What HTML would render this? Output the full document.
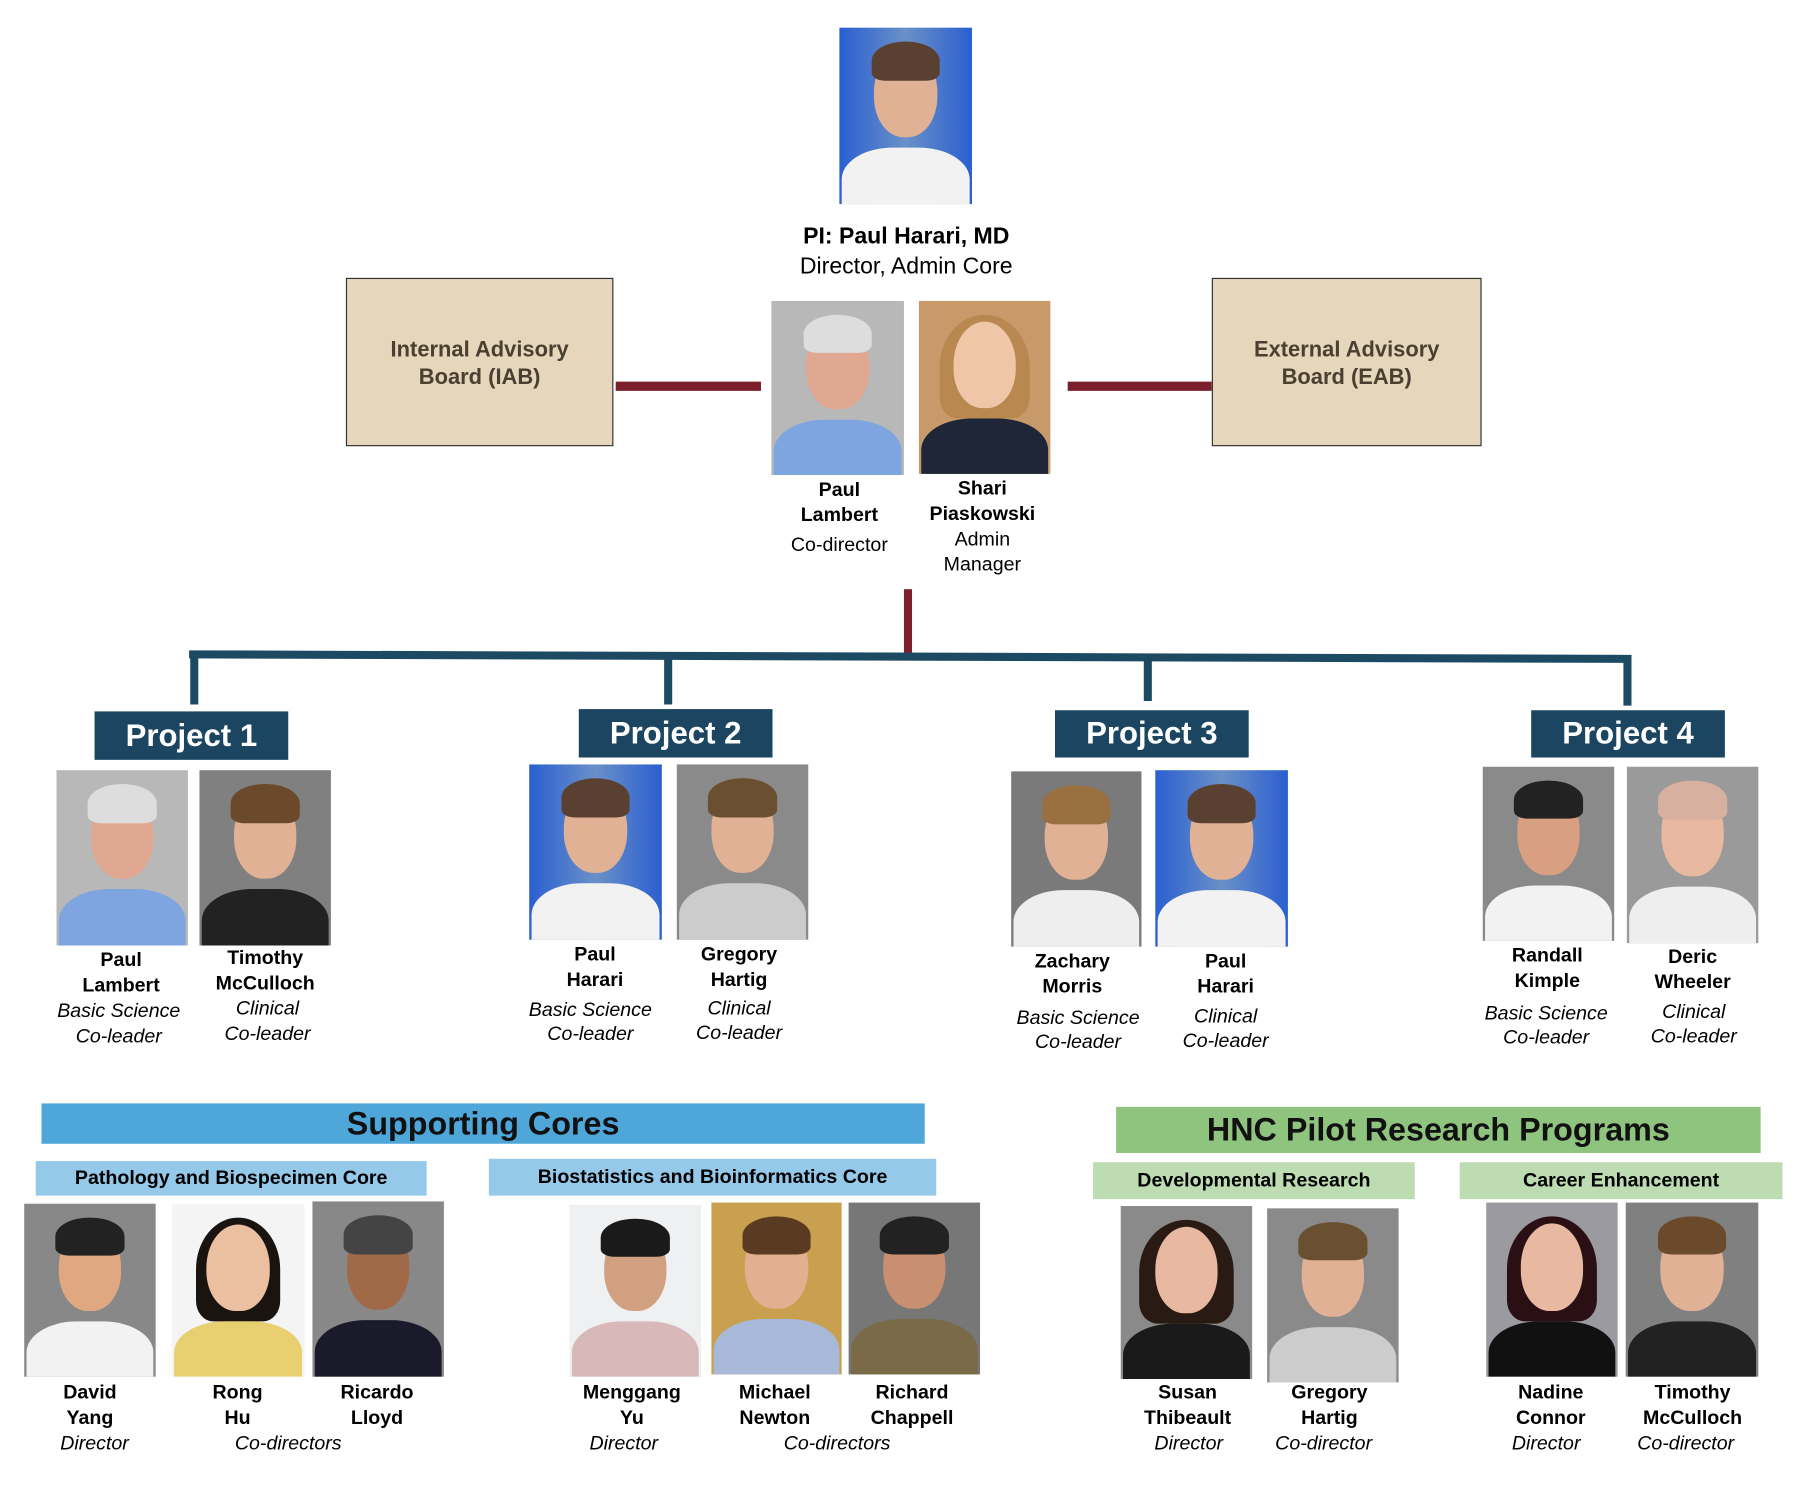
<!DOCTYPE html>
<html><head><meta charset="utf-8"><style>
html,body{margin:0;padding:0;background:#fff;width:1807px;height:1507px;overflow:hidden}
#w{position:absolute;left:0;top:0;width:1570px;height:1310px;transform:scale(1.1530,1.1530);transform-origin:0 0;font-family:"Liberation Sans",Arial,sans-serif;color:#000}
.a{position:absolute}
.t{position:absolute;width:220px;text-align:center;font-size:17px;line-height:22px;white-space:nowrap}
.b{font-weight:bold}.i{font-style:italic}
.ph{position:absolute;overflow:hidden}
.ph .hd{position:absolute;left:26%;top:12%;width:48%;height:50%;border-radius:50% 50% 46% 46%;background:#e0b195}
.ph .hr{position:absolute;left:24%;top:8%;width:52%;height:22%;border-radius:50% 50% 20% 20%}
.ph .bd{position:absolute;left:2%;top:68%;width:96%;height:45%;border-radius:40% 40% 0 0}
.box{position:absolute;display:flex;align-items:center;justify-content:center;text-align:center}
</style></head><body><div id="w">

<div class="a" style="left:534px;top:331px;width:126px;height:8px;background:#7a1f2b"></div>
<div class="a" style="left:926px;top:331px;width:125px;height:8px;background:#7a1f2b"></div>
<div class="a" style="left:784px;top:511px;width:7px;height:58px;background:#7a1f2b"></div>
<div class="a" style="left:164px;top:566px;width:1251px;height:7px;background:#1c4a63;transform:rotate(0.18deg)"></div>
<div class="a" style="left:165px;top:567px;width:7px;height:44px;background:#1c4a63"></div>
<div class="a" style="left:576px;top:568px;width:7px;height:43px;background:#1c4a63"></div>
<div class="a" style="left:992px;top:570px;width:7px;height:38px;background:#1c4a63"></div>
<div class="a" style="left:1408px;top:571px;width:7px;height:41px;background:#1c4a63"></div>

<div class="box" style="left:300px;top:241px;width:232px;height:146px;background:#e5d6bc;border:1px solid #333;color:#4a3f30;font-weight:bold;font-size:19px;line-height:24px;box-sizing:border-box;align-items:flex-start;padding-top:50px">Internal Advisory<br>Board (IAB)</div>
<div class="box" style="left:1051px;top:241px;width:234px;height:146px;background:#e5d6bc;border:1px solid #333;color:#4a3f30;font-weight:bold;font-size:19px;line-height:24px;box-sizing:border-box;align-items:flex-start;padding-top:50px">External Advisory<br>Board (EAB)</div>

<div class="box" style="left:82px;top:617px;width:168px;height:42px;background:#1b4560;color:#fff;font-weight:bold;font-size:27px">Project 1</div>
<div class="box" style="left:502px;top:615px;width:168px;height:42px;background:#1b4560;color:#fff;font-weight:bold;font-size:27px">Project 2</div>
<div class="box" style="left:915px;top:616px;width:168px;height:41px;background:#1b4560;color:#fff;font-weight:bold;font-size:27px">Project 3</div>
<div class="box" style="left:1328px;top:616px;width:168px;height:41px;background:#1b4560;color:#fff;font-weight:bold;font-size:27px">Project 4</div>

<div class="box" style="left:36px;top:957px;width:766px;height:35px;background:#4ea6d9;font-weight:bold;font-size:28px;color:#111">Supporting Cores</div>
<div class="box" style="left:31px;top:1007px;width:339px;height:30px;background:#95c9ea;font-weight:bold;font-size:17px">Pathology and Biospecimen Core</div>
<div class="box" style="left:424px;top:1005px;width:388px;height:32px;background:#95c9ea;font-weight:bold;font-size:17px">Biostatistics and Bioinformatics Core</div>
<div class="box" style="left:968px;top:960px;width:559px;height:40px;background:#8fc47f;font-weight:bold;font-size:28px;color:#111">HNC Pilot Research Programs</div>
<div class="box" style="left:948px;top:1008px;width:279px;height:32px;background:#bddcb1;font-weight:bold;font-size:17px">Developmental Research</div>
<div class="box" style="left:1266px;top:1008px;width:280px;height:32px;background:#bddcb1;font-weight:bold;font-size:17px">Career Enhancement</div>

<div class="ph" style="left:728px;top:24px;width:115px;height:153px;background:linear-gradient(90deg,#2a5fd0,#6a90c8 50%,#2a5fd0)"><div class="bd" style="background:#f2f2f2"></div><div class="hd"></div><div class="hr" style="background:#5a4030"></div></div>
<div class="ph" style="left:669px;top:261px;width:115px;height:151px;background:#b8b8b8"><div class="bd" style="background:#7fa5e0"></div><div class="hd" style="background:#e0a890"></div><div class="hr" style="background:#ddd"></div></div>
<div class="ph" style="left:797px;top:261px;width:114px;height:150px;background:#c89a6a"><div class="bd" style="background:#1e2638"></div><div class="hr" style="background:#b88850;height:60%;left:16%;width:68%"></div><div class="hd" style="background:#f0c6a8"></div></div>

<div class="ph" style="left:49px;top:668px;width:114px;height:152px;background:#b8b8b8"><div class="bd" style="background:#7fa5e0"></div><div class="hd" style="background:#e0a890"></div><div class="hr" style="background:#ddd"></div></div>
<div class="ph" style="left:173px;top:668px;width:114px;height:152px;background:#808080"><div class="bd" style="background:#222"></div><div class="hd"></div><div class="hr" style="background:#6a4a2a"></div></div>
<div class="ph" style="left:459px;top:663px;width:115px;height:152px;background:linear-gradient(90deg,#2a5fd0,#6a90c8 50%,#2a5fd0)"><div class="bd" style="background:#f2f2f2"></div><div class="hd"></div><div class="hr" style="background:#5a4030"></div></div>
<div class="ph" style="left:587px;top:663px;width:114px;height:152px;background:#8a8a8a"><div class="bd" style="background:#ccc"></div><div class="hd"></div><div class="hr" style="background:#6a5030"></div></div>
<div class="ph" style="left:877px;top:669px;width:113px;height:152px;background:#7a7a7a"><div class="bd" style="background:#eee"></div><div class="hd"></div><div class="hr" style="background:#9a7040"></div></div>
<div class="ph" style="left:1002px;top:668px;width:115px;height:153px;background:linear-gradient(90deg,#2a5fd0,#6a90c8 50%,#2a5fd0)"><div class="bd" style="background:#f2f2f2"></div><div class="hd"></div><div class="hr" style="background:#5a4030"></div></div>
<div class="ph" style="left:1286px;top:665px;width:114px;height:151px;background:#8a8a8a"><div class="bd" style="background:#f2f2f2"></div><div class="hd" style="background:#d8a080"></div><div class="hr" style="background:#222"></div></div>
<div class="ph" style="left:1411px;top:665px;width:114px;height:153px;background:#9a9a9a"><div class="bd" style="background:#eee"></div><div class="hd" style="background:#e8b8a0"></div><div class="hr" style="background:#d8b0a0"></div></div>

<div class="ph" style="left:21px;top:1044px;width:114px;height:150px;background:#888"><div class="bd" style="background:#f2f2f2"></div><div class="hd" style="background:#e0a880"></div><div class="hr" style="background:#222"></div></div>
<div class="ph" style="left:149px;top:1044px;width:115px;height:150px;background:#f4f4f4"><div class="hr" style="background:#1a1410;height:60%;left:18%;width:64%"></div><div class="bd" style="background:#e8d070"></div><div class="hd" style="background:#eac0a0"></div></div>
<div class="ph" style="left:271px;top:1042px;width:114px;height:152px;background:#888"><div class="bd" style="background:#1a1a2a"></div><div class="hd" style="background:#a06a48"></div><div class="hr" style="background:#444"></div></div>
<div class="ph" style="left:494px;top:1045px;width:114px;height:149px;background:#eef0f2"><div class="bd" style="background:#d8b8b8"></div><div class="hd" style="background:#d0a080"></div><div class="hr" style="background:#1a1a1a"></div></div>
<div class="ph" style="left:617px;top:1043px;width:113px;height:149px;background:#c8a050"><div class="bd" style="background:#a8b8d8"></div><div class="hd" style="background:#e0b090"></div><div class="hr" style="background:#5a3a20"></div></div>
<div class="ph" style="left:736px;top:1043px;width:114px;height:149px;background:#777"><div class="bd" style="background:#7a6a48"></div><div class="hd" style="background:#c89070"></div><div class="hr" style="background:#222"></div></div>
<div class="ph" style="left:972px;top:1046px;width:114px;height:150px;background:#8a8a8a"><div class="hr" style="background:#2a1a14;height:60%;left:14%;width:72%"></div><div class="bd" style="background:#1a1a1a"></div><div class="hd" style="background:#e8b8a0"></div></div>
<div class="ph" style="left:1099px;top:1048px;width:114px;height:151px;background:#8a8a8a"><div class="bd" style="background:#ccc"></div><div class="hd"></div><div class="hr" style="background:#6a5030"></div></div>
<div class="ph" style="left:1289px;top:1043px;width:114px;height:151px;background:#9a9aa0"><div class="hr" style="background:#2a1014;height:60%;left:16%;width:68%"></div><div class="bd" style="background:#111"></div><div class="hd" style="background:#e8b8a0"></div></div>
<div class="ph" style="left:1410px;top:1043px;width:115px;height:151px;background:#808080"><div class="bd" style="background:#222"></div><div class="hd"></div><div class="hr" style="background:#6a4a2a"></div></div>

<div class="t b" style="left:676px;top:194px;font-size:20px">PI: Paul Harari, MD</div>
<div class="t" style="left:676px;top:220px;font-size:20px">Director, Admin Core</div>
<div class="t b" style="left:618px;top:414px">Paul</div>
<div class="t b" style="left:618px;top:436px">Lambert</div>
<div class="t" style="left:618px;top:462px">Co-director</div>
<div class="t b" style="left:742px;top:413px">Shari</div>
<div class="t b" style="left:742px;top:435px">Piaskowski</div>
<div class="t" style="left:742px;top:457px">Admin</div>
<div class="t" style="left:742px;top:479px">Manager</div>

<div class="t b" style="left:-5px;top:822px">Paul</div>
<div class="t b" style="left:-5px;top:844px">Lambert</div>
<div class="t i" style="left:-7px;top:866px">Basic Science</div>
<div class="t i" style="left:-7px;top:888px">Co-leader</div>
<div class="t b" style="left:120px;top:820px">Timothy</div>
<div class="t b" style="left:120px;top:842px">McCulloch</div>
<div class="t i" style="left:122px;top:864px">Clinical</div>
<div class="t i" style="left:122px;top:886px">Co-leader</div>

<div class="t b" style="left:406px;top:817px">Paul</div>
<div class="t b" style="left:406px;top:839px">Harari</div>
<div class="t i" style="left:402px;top:865px">Basic Science</div>
<div class="t i" style="left:402px;top:886px">Co-leader</div>
<div class="t b" style="left:531px;top:817px">Gregory</div>
<div class="t b" style="left:531px;top:839px">Hartig</div>
<div class="t i" style="left:531px;top:864px">Clinical</div>
<div class="t i" style="left:531px;top:885px">Co-leader</div>

<div class="t b" style="left:820px;top:823px">Zachary</div>
<div class="t b" style="left:820px;top:845px">Morris</div>
<div class="t i" style="left:825px;top:872px">Basic Science</div>
<div class="t i" style="left:825px;top:893px">Co-leader</div>
<div class="t b" style="left:953px;top:823px">Paul</div>
<div class="t b" style="left:953px;top:845px">Harari</div>
<div class="t i" style="left:953px;top:871px">Clinical</div>
<div class="t i" style="left:953px;top:892px">Co-leader</div>

<div class="t b" style="left:1232px;top:818px">Randall</div>
<div class="t b" style="left:1232px;top:840px">Kimple</div>
<div class="t i" style="left:1231px;top:868px">Basic Science</div>
<div class="t i" style="left:1231px;top:889px">Co-leader</div>
<div class="t b" style="left:1358px;top:819px">Deric</div>
<div class="t b" style="left:1358px;top:841px">Wheeler</div>
<div class="t i" style="left:1359px;top:867px">Clinical</div>
<div class="t i" style="left:1359px;top:888px">Co-leader</div>

<div class="t b" style="left:-32px;top:1197px">David</div>
<div class="t b" style="left:-32px;top:1219px">Yang</div>
<div class="t i" style="left:-28px;top:1241px">Director</div>
<div class="t b" style="left:96px;top:1197px">Rong</div>
<div class="t b" style="left:96px;top:1219px">Hu</div>
<div class="t b" style="left:217px;top:1197px">Ricardo</div>
<div class="t b" style="left:217px;top:1219px">Lloyd</div>
<div class="t i" style="left:140px;top:1241px">Co-directors</div>

<div class="t b" style="left:438px;top:1197px">Menggang</div>
<div class="t b" style="left:438px;top:1219px">Yu</div>
<div class="t i" style="left:431px;top:1241px">Director</div>
<div class="t b" style="left:562px;top:1197px">Michael</div>
<div class="t b" style="left:562px;top:1219px">Newton</div>
<div class="t b" style="left:681px;top:1197px">Richard</div>
<div class="t b" style="left:681px;top:1219px">Chappell</div>
<div class="t i" style="left:616px;top:1241px">Co-directors</div>

<div class="t b" style="left:920px;top:1197px">Susan</div>
<div class="t b" style="left:920px;top:1219px">Thibeault</div>
<div class="t i" style="left:921px;top:1241px">Director</div>
<div class="t b" style="left:1043px;top:1197px">Gregory</div>
<div class="t b" style="left:1043px;top:1219px">Hartig</div>
<div class="t i" style="left:1038px;top:1241px">Co-director</div>
<div class="t b" style="left:1235px;top:1197px">Nadine</div>
<div class="t b" style="left:1235px;top:1219px">Connor</div>
<div class="t i" style="left:1231px;top:1241px">Director</div>
<div class="t b" style="left:1358px;top:1197px">Timothy</div>
<div class="t b" style="left:1358px;top:1219px">McCulloch</div>
<div class="t i" style="left:1352px;top:1241px">Co-director</div>

</div></body></html>
